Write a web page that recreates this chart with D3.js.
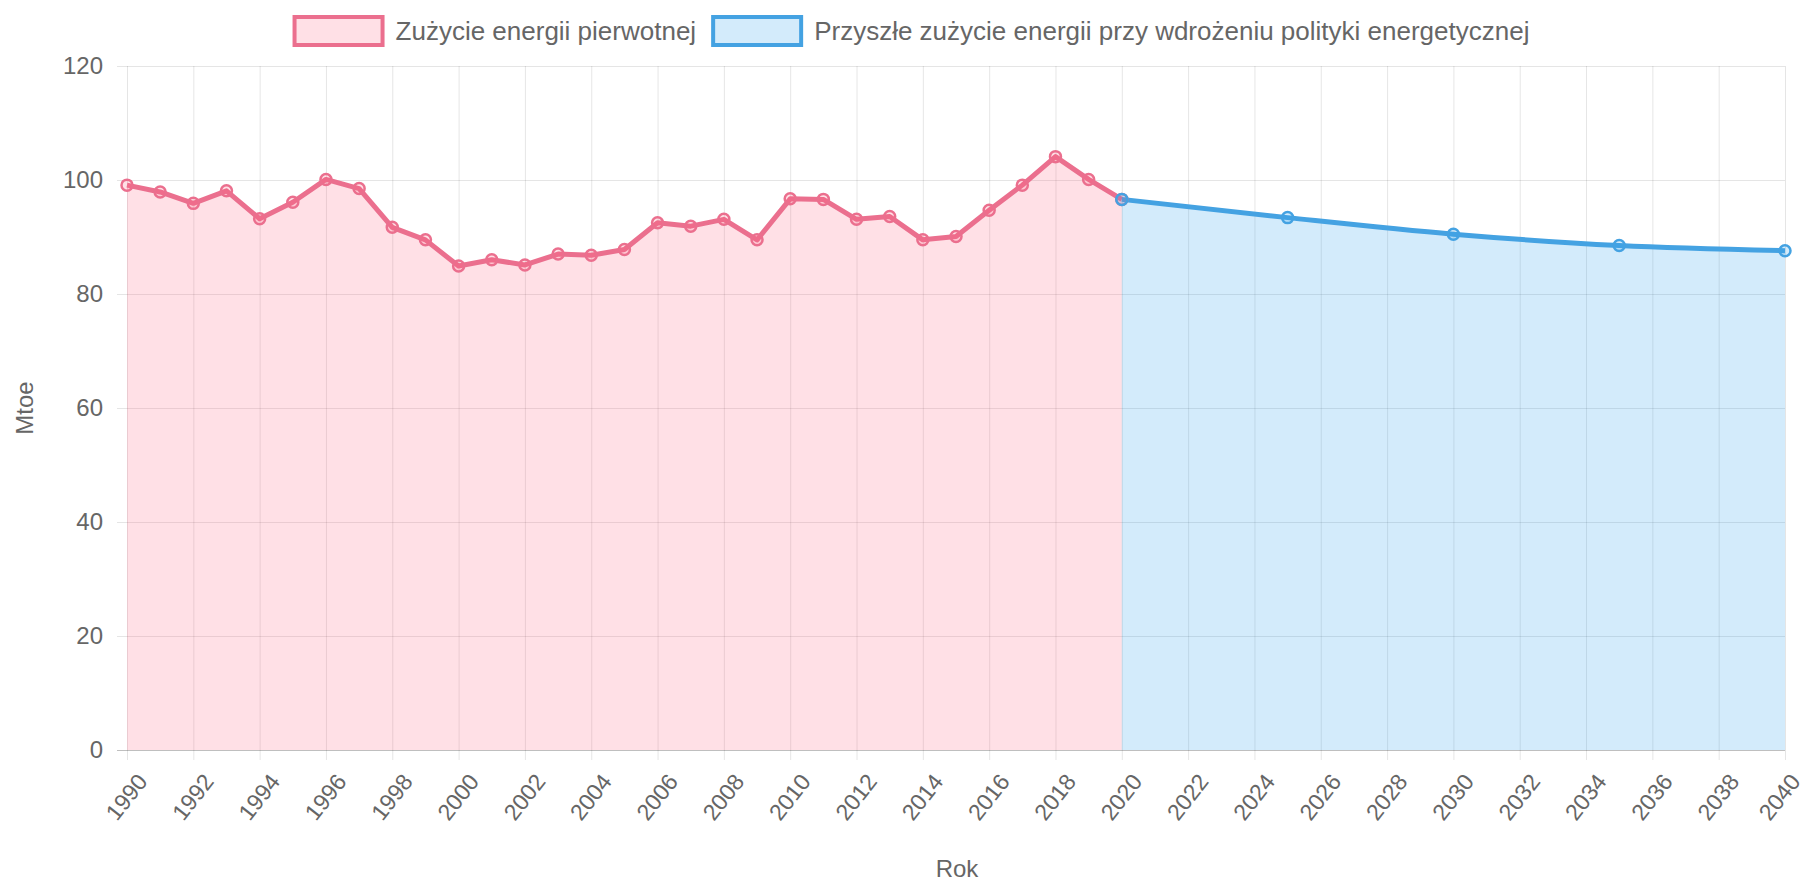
<!DOCTYPE html>
<html>
<head>
<meta charset="utf-8">
<script src="https://cdn.jsdelivr.net/npm/d3@7"></script>
<style>
  body { margin: 0; background: #fff; }
  svg text { font-family: "Liberation Sans", Arial, sans-serif; fill: #666; }
</style>
</head>
<body>
<svg id="chart"></svg>
<script>
var width = 1807, height = 881;

// data
var pastYears = [1990, 1991, 1992, 1993, 1994, 1995, 1996, 1997, 1998, 1999,
                 2000, 2001, 2002, 2003, 2004, 2005, 2006, 2007, 2008, 2009,
                 2010, 2011, 2012, 2013, 2014, 2015, 2016, 2017, 2018, 2019, 2020];
var pastValues = [99.1, 97.9, 95.9, 98.1, 93.2, 96.1, 100.1, 98.5, 91.7, 89.5,
                  84.9, 86.0, 85.1, 87.0, 86.8, 87.8, 92.5, 91.9, 93.1, 89.5,
                  96.7, 96.6, 93.1, 93.6, 89.5, 90.1, 94.7, 99.1, 104.1, 100.1, 96.6];
var futureYears = [2020, 2025, 2030, 2035, 2040];
var futureValues = [96.6, 93.4, 90.5, 88.5, 87.6];

var xTicks = [1990, 1992, 1994, 1996, 1998, 2000, 2002, 2004, 2006, 2008, 2010, 2012, 2014,
              2016, 2018, 2020, 2022, 2024, 2026, 2028, 2030, 2032, 2034, 2036, 2038, 2040];
var yTicks = [0, 20, 40, 60, 80, 100, 120];
var legendLabels = ["Zużycie energii pierwotnej", "Przyszłe zużycie energii przy wdrożeniu polityki energetycznej"];
var xTitle = "Rok";
var yTitle = "Mtoe";

var palette = {
  pink: "#eb6f8e",
  pinkFill: "rgba(255,99,132,0.2)",
  blue: "#44a2e2",
  blueFill: "rgba(54,162,235,0.22)",
  grid: "rgba(0,0,0,0.1)",
  zero: "rgba(0,0,0,0.25)"
};

var plot = { left: 127, right: 1785, top: 66, bottom: 750 };

var svg = d3.select("#chart").attr("width", width).attr("height", height);

var x = d3.scaleLinear().domain([1990, 2040]).range([plot.left, plot.right]);
var y = d3.scaleLinear().domain([0, 120]).range([plot.bottom, plot.top]);

// y grid + labels
var yAxis = d3.axisLeft(y).tickValues(yTicks).tickSize(-(plot.right - plot.left + 10)).tickPadding(14);
var gy = svg.append("g").attr("transform", "translate(" + (plot.left - 10) + ",0)").call(yAxis);
gy.select(".domain").remove();
gy.selectAll(".tick line")
  .attr("stroke", function(d) { return d === 0 ? palette.zero : palette.grid; });
gy.selectAll(".tick text").style("font-size", "24px");

// x grid + labels (rotated like the original)
var xAxis = d3.axisBottom(x).tickValues(xTicks).tickSize(-(plot.bottom + 10 - plot.top)).tickFormat(d3.format("d"));
var gx = svg.append("g").attr("transform", "translate(0," + (plot.bottom + 10) + ")").call(xAxis);
gx.select(".domain").remove();
gx.selectAll(".tick line").attr("stroke", palette.grid);
gx.selectAll(".tick text")
  .attr("y", 0)
  .attr("dy", "0.35em")
  .attr("text-anchor", "middle")
  .attr("transform", function(d) {
    // keep the last label inside the canvas
    var dx = d === 2040 ? -6 : -1;
    return "translate(" + dx + ",37) rotate(-52)";
  })
  .style("font-size", "23px");

// fills
var pastData = pastYears.map(function(d, i) { return { year: d, value: pastValues[i] }; });
var futureData = futureYears.map(function(d, i) { return { year: d, value: futureValues[i] }; });

var areaPast = d3.area()
  .x(function(d) { return x(d.year); })
  .y0(y(0))
  .y1(function(d) { return y(d.value); });
var areaFuture = d3.area()
  .curve(d3.curveMonotoneX)
  .x(function(d) { return x(d.year); })
  .y0(y(0))
  .y1(function(d) { return y(d.value); });

svg.append("path").datum(pastData).attr("d", areaPast).attr("fill", palette.pinkFill);
svg.append("path").datum(futureData).attr("d", areaFuture).attr("fill", palette.blueFill);

// lines
var linePast = d3.line()
  .x(function(d) { return x(d.year); })
  .y(function(d) { return y(d.value); });
var lineFuture = d3.line()
  .curve(d3.curveMonotoneX)
  .x(function(d) { return x(d.year); })
  .y(function(d) { return y(d.value); });

svg.append("path").datum(pastData).attr("d", linePast)
  .attr("fill", "none").attr("stroke", palette.pink).attr("stroke-width", 5).attr("stroke-linejoin", "round");
svg.append("path").datum(futureData).attr("d", lineFuture)
  .attr("fill", "none").attr("stroke", palette.blue).attr("stroke-width", 5).attr("stroke-linejoin", "round");

// points
svg.append("g").selectAll("circle").data(pastData).enter().append("circle")
  .attr("cx", function(d) { return x(d.year); })
  .attr("cy", function(d) { return y(d.value); })
  .attr("r", 5.5)
  .attr("fill", palette.pinkFill)
  .attr("stroke", palette.pink)
  .attr("stroke-width", 2.5);
svg.append("g").selectAll("circle").data(futureData).enter().append("circle")
  .attr("cx", function(d) { return x(d.year); })
  .attr("cy", function(d) { return y(d.value); })
  .attr("r", 5.5)
  .attr("fill", palette.blueFill)
  .attr("stroke", palette.blue)
  .attr("stroke-width", 2.5);

// titles
svg.append("text")
  .attr("transform", "translate(25," + ((plot.top + plot.bottom) / 2) + ") rotate(-90)")
  .attr("text-anchor", "middle")
  .attr("dy", "0.35em")
  .style("font-size", "24px")
  .text(yTitle);
svg.append("text")
  .attr("x", 957)
  .attr("y", 869)
  .attr("text-anchor", "middle")
  .attr("dy", "0.35em")
  .style("font-size", "24px")
  .text(xTitle);

// legend
var legendColors = [[palette.pink, palette.pinkFill], [palette.blue, palette.blueFill]];
var legend = svg.append("g");
var lx = 0;
legendLabels.forEach(function(label, i) {
  var item = legend.append("g").attr("transform", "translate(" + lx + ",0)");
  item.append("rect")
    .attr("x", 2).attr("y", 17)
    .attr("width", 88).attr("height", 28)
    .attr("fill", legendColors[i][1])
    .attr("stroke", legendColors[i][0])
    .attr("stroke-width", 4);
  var t = item.append("text")
    .attr("x", 103).attr("y", 31).attr("dy", "0.35em")
    .style("font-size", "26px")
    .text(label);
  lx += 103 + t.node().getComputedTextLength() + 15;
});
lx -= 15;
legend.attr("transform", "translate(" + (911 - lx / 2) + ",0)");
</script>
</body>
</html>
